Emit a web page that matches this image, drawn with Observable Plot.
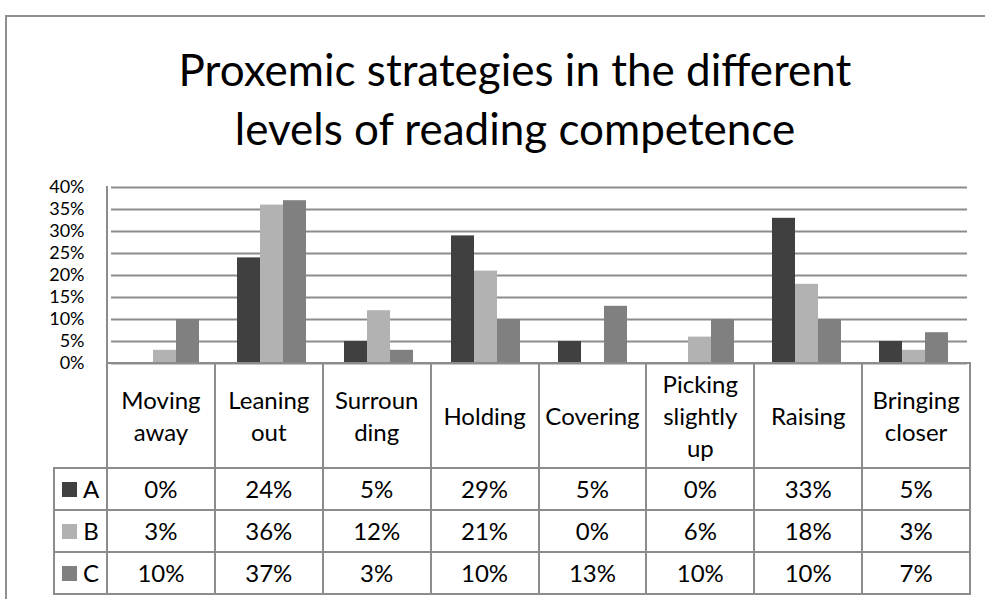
<!DOCTYPE html>
<html>
<head>
<meta charset="utf-8">
<script src="https://cdn.jsdelivr.net/npm/d3@7"></script>
<script src="https://cdn.jsdelivr.net/npm/@observablehq/plot@0.6"></script>
<style>
  body { margin: 0; background: #fff; font-family: Lato, "Open Sans", sans-serif; }
  #wrap { position: relative; width: 985px; height: 599px; overflow: hidden; background: #fff; }
  #frame { position: absolute; left: 5px; top: 15px; width: 1200px; height: 800px;
           border-left: 2px solid #8f8f8f; border-top: 2px solid #8f8f8f; }
  #title { position: absolute; left: 20px; width: 990px; top: 40px; text-align: center;
           font-size: 44px; line-height: 59px; color: #000; }
  #chart { position: absolute; left: 0; top: 170px; }
  #vline { position: absolute; left: 106px; top: 186px; width: 2px; height: 178px; background: #8c8c8c; }
  .cell { position: absolute; box-sizing: border-box; border: 2px solid #8c8c8c;
          display: flex; align-items: center; justify-content: center; text-align: center;
          white-space: pre-line; font-size: 24px; line-height: 32px; color: #000; background: transparent; }
  .sw { display: inline-block; width: 15px; height: 15px; margin-right: 6px; }
</style>
</head>
<body>
<div id="wrap">
  <div id="frame"></div>
  <div id="title">Proxemic strategies in the different<br>levels of reading competence</div>
  <div id="chart"></div>
  <div id="vline"></div>
  <div id="table"></div>
</div>
<script>
const categories = ["Moving\naway", "Leaning\nout", "Surroun\nding", "Holding", "Covering", "Picking\nslightly\nup", "Raising", "Bringing\ncloser"];
const seriesNames = ["A", "B", "C"];
const valuesA = [0, 24, 5, 29, 5, 0, 33, 5];
const valuesB = [3, 36, 12, 21, 0, 6, 18, 3];
const valuesC = [10, 37, 3, 10, 13, 10, 10, 7];
const seriesColors = ["#404040", "#b2b2b2", "#808080"];
const yTicks = [0, 5, 10, 15, 20, 25, 30, 35, 40];

const seriesValues = [valuesA, valuesB, valuesC];
const rows = [];
categories.forEach((c, i) => {
  seriesNames.forEach((s, j) => rows.push({cat: c, s, v: seriesValues[j][i] / 100}));
});

const W = 985, ML = 107, MR = 15;
const chart = Plot.plot({
  width: W, height: 195,
  marginLeft: ML, marginRight: MR, marginTop: 17, marginBottom: 2,
  fx: {domain: categories, padding: 0, axis: null},
  x: {domain: seriesNames, paddingInner: 0, paddingOuter: 0.75, axis: null},
  y: {domain: [0, 0.4]},
  color: {domain: seriesNames, range: seriesColors},
  style: {fontFamily: "Lato, 'Open Sans', sans-serif", fontSize: "18px", color: "#000", background: "transparent", overflow: "visible"},
  marks: [
    Plot.ruleY(yTicks.map(d => d / 100), {stroke: "#8c8c8c", strokeWidth: 2}),
    Plot.barY(rows, {fx: "cat", x: "s", y: "v", fill: "s"}),
    Plot.axisY(yTicks.map(d => d / 100), {tickSize: 0, tickPadding: 27, tickFormat: d3.format(".0%"), label: null, fontSize: 18})
  ]
});
document.getElementById("chart").appendChild(chart);

// data table below the chart
const table = document.getElementById("table");
const colW = (W - ML - MR) / categories.length;
const rowTops = [363, 468, 510, 552, 594];
const legendLeft = 54;
function cell(x0, y0, w, h, html) {
  const d = document.createElement("div");
  d.className = "cell";
  d.style.left = (x0 - 1) + "px";
  d.style.top = (y0 - 1) + "px";
  d.style.width = (w + 2) + "px";
  d.style.height = (h + 2) + "px";
  if (html instanceof Node) d.appendChild(html); else d.textContent = html;
  table.appendChild(d);
  return d;
}
categories.forEach((c, i) => cell(ML + i * colW, rowTops[0], colW, rowTops[1] - rowTops[0], c));
seriesNames.forEach((s, j) => {
  const y0 = rowTops[j + 1], h = rowTops[j + 2] - y0;
  const lab = document.createElement("span");
  lab.style.display = "flex"; lab.style.alignItems = "center";
  const sw = document.createElement("span");
  sw.className = "sw"; sw.style.background = seriesColors[j];
  lab.appendChild(sw);
  lab.appendChild(document.createTextNode(s));
  cell(legendLeft, y0, ML - legendLeft, h, lab);
  seriesValues[j].forEach((v, i) => cell(ML + i * colW, y0, colW, h, v + "%"));
});
</script>
</body>
</html>
